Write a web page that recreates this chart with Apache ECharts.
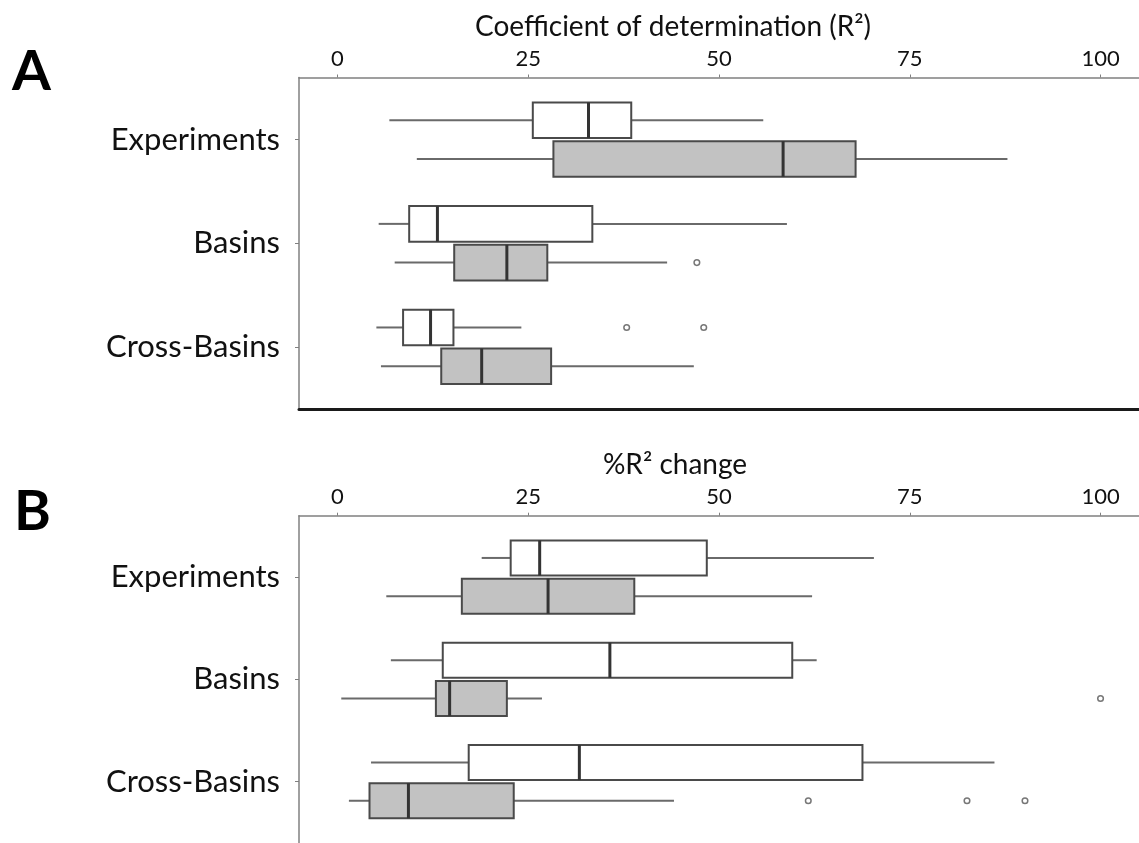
<!DOCTYPE html>
<html>
<head>
<meta charset="utf-8">
<script src="https://cdn.jsdelivr.net/npm/echarts@6/dist/echarts.min.js"></script>
<style>
html,body{margin:0;padding:0;background:#fff;}
#chart{width:1139px;height:843px;}
</style>
</head>
<body>
<div id="chart"></div>
<script>
// ---- data ----
const categories = ['Experiments', 'Basins', 'Cross-Basins'];
const xTicks = [0, 25, 50, 75, 100];
const titleA = 'Coefficient of determination (R²)';
const titleB = '%R² change';

// each row: [low whisker, Q1, median, Q3, high whisker]
const r2White  = [[6.8, 25.6, 32.9, 38.5, 55.8], [5.4, 9.4, 13.1, 33.4, 58.9], [5.1, 8.6, 12.2, 15.2, 24.1]];
const r2Grey   = [[10.4, 28.3, 58.4, 67.9, 87.8], [7.5, 15.3, 22.2, 27.5, 43.2], [5.7, 13.6, 18.9, 28.0, 46.7]];
const r2WhiteOutliers = [[2, 37.9], [2, 48.0]];   // [category index, value]
const r2GreyOutliers  = [[1, 47.1]];

const chgWhite = [[18.9, 22.7, 26.5, 48.4, 70.3], [7.0, 13.8, 35.7, 59.6, 62.8], [4.4, 17.2, 31.7, 68.8, 86.1]];
const chgGrey  = [[6.4, 16.3, 27.6, 38.9, 62.2], [0.5, 12.9, 14.7, 22.2, 26.8], [1.5, 4.2, 9.3, 23.1, 44.1]];
const chgWhiteOutliers = [];
const chgGreyOutliers  = [[1, 100.0], [2, 61.7], [2, 82.5], [2, 90.1]];

// ---- styles ----
const FONT = 'Lato';
const OFF = 0.187;     // vertical offset of each box from category (in category units)
const BOXH = 0.343;    // box height (category units)
const GREY_FILL = '#c2c2c2';

function boxSeries(rows, gridIdx, sign, fill) {
  return {
    type: 'custom',
    xAxisIndex: gridIdx === 0 ? 0 : 2,
    yAxisIndex: gridIdx,
    data: rows.map((r, i) => [i].concat(r)),
    renderItem: function (params, api) {
      const cat = api.value(0);
      const lo = api.value(1), q1 = api.value(2), med = api.value(3), q3 = api.value(4), hi = api.value(5);
      const unit = Math.abs(api.size([0, 1])[1]);
      const yc = api.coord([0, cat])[1] + sign * OFF * unit;
      const h = BOXH * unit;
      const x = v => api.coord([v, cat])[0];
      const wStyle = {stroke: '#6a6a6a', lineWidth: 2};
      return {
        type: 'group',
        children: [
          {type: 'line', shape: {x1: x(lo), y1: yc, x2: x(q1), y2: yc}, style: wStyle},
          {type: 'line', shape: {x1: x(q3), y1: yc, x2: x(hi), y2: yc}, style: wStyle},
          {type: 'rect', shape: {x: x(q1), y: yc - h / 2, width: x(q3) - x(q1), height: h},
           style: {fill: fill, stroke: '#4a4a4a', lineWidth: 2}},
          {type: 'line', shape: {x1: x(med), y1: yc - h / 2, x2: x(med), y2: yc + h / 2},
           style: {stroke: '#333', lineWidth: 3}}
        ]
      };
    }
  };
}

function outlierSeries(pts, gridIdx, sign) {
  return {
    type: 'custom',
    xAxisIndex: gridIdx === 0 ? 0 : 2,
    yAxisIndex: gridIdx,
    data: pts,
    renderItem: function (params, api) {
      const cat = api.value(0), v = api.value(1);
      const unit = Math.abs(api.size([0, 1])[1]);
      const p = api.coord([v, cat]);
      return {type: 'circle', shape: {cx: p[0], cy: p[1] + sign * OFF * unit, r: 2.8},
              style: {fill: '#fff', stroke: '#777', lineWidth: 1.5}};
    }
  };
}

const X_MIN = -5.04, X_MAX = 105.04;

function topAxis(gridIndex) {
  return {
    type: 'value', gridIndex: gridIndex, position: 'top', min: X_MIN, max: X_MAX,
    axisLine: {show: true, onZero: false, lineStyle: {color: '#808080', width: 1.5}},
    axisTick: {show: true, customValues: xTicks, length: 3, inside: false, lineStyle: {color: '#808080', width: 1}},
    axisLabel: {show: true, customValues: xTicks, margin: 8, fontFamily: FONT, fontSize: 22, color: '#111'},
    splitLine: {show: false}
  };
}

function catAxis(gridIndex) {
  return {
    type: 'value', gridIndex: gridIndex, inverse: true, min: -0.6, max: 2.6,
    axisLine: {show: true, onZero: false, lineStyle: {color: '#808080', width: 1.5}},
    axisTick: {show: true, customValues: [0, 1, 2], length: 4, lineStyle: {color: '#808080', width: 1}},
    axisLabel: {show: true, customValues: [0, 1, 2], margin: 19, fontFamily: FONT, fontSize: 31, color: '#111',
                formatter: v => categories[Math.round(v)]},
    splitLine: {show: false}
  };
}

const chart = echarts.init(document.getElementById('chart'), null, {renderer: 'canvas'});
chart.setOption({
  backgroundColor: '#fff',
  animation: false,
  grid: [
    {left: 299, right: -11.3, top: 77.5, height: 331.5},
    {left: 299, right: -11.3, top: 515.7, height: 331.5}
  ],
  xAxis: [
    topAxis(0),
    {type: 'value', gridIndex: 0, position: 'bottom', min: X_MIN, max: X_MAX,
     axisLine: {show: true, onZero: false, lineStyle: {color: '#1a1a1a', width: 3}},
     axisTick: {show: false}, axisLabel: {show: false}, splitLine: {show: false}},
    topAxis(1)
  ],
  yAxis: [catAxis(0), catAxis(1)],
  graphic: [
    {type: 'text', left: 12, top: 44, style: {text: 'A', font: 'bold 56px Lato', fill: '#000'}},
    {type: 'text', left: 14, top: 484, style: {text: 'B', font: 'bold 56px Lato', fill: '#000'}},
    {type: 'text', x: 673, y: 27, style: {text: titleA, font: '28px Lato', fill: '#111', align: 'center', verticalAlign: 'middle'}},
    {type: 'text', x: 675, y: 465, style: {text: titleB, font: '28px Lato', fill: '#111', align: 'center', verticalAlign: 'middle'}}
  ],
  series: [
    boxSeries(r2White, 0, -1, '#fff'),
    boxSeries(r2Grey, 0, 1, GREY_FILL),
    outlierSeries(r2WhiteOutliers, 0, -1),
    outlierSeries(r2GreyOutliers, 0, 1),
    boxSeries(chgWhite, 1, -1, '#fff'),
    boxSeries(chgGrey, 1, 1, GREY_FILL),
    outlierSeries(chgWhiteOutliers, 1, -1),
    outlierSeries(chgGreyOutliers, 1, 1)
  ]
});
</script>
</body>
</html>
